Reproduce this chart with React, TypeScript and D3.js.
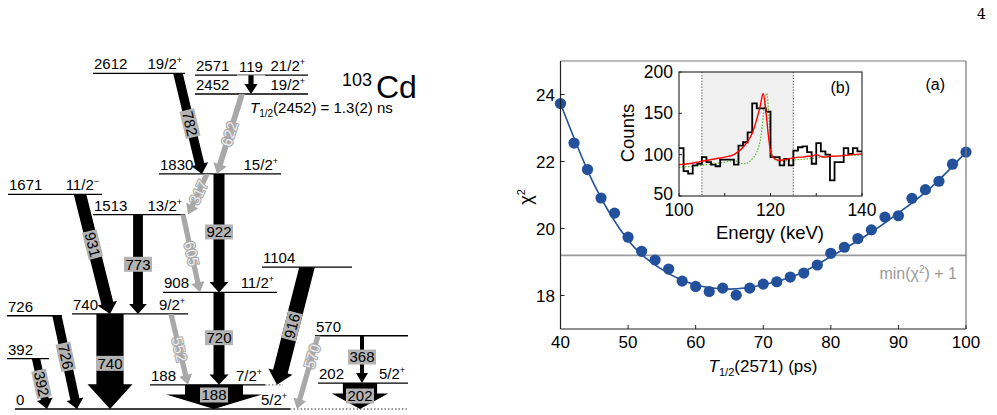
import React from 'react';
import * as d3 from 'd3';

const FONT = '"Liberation Sans", Arial, Helvetica, sans-serif';

// ---- level scheme of 103Cd ----
const levelEnergy = [0, 188, 202, 392, 570, 726, 740, 908, 1104, 1513, 1671, 1830, 2452, 2571, 2612];
const levelSpin = ['5/2+', '7/2+', '5/2+', '', '', '', '9/2+', '11/2+', '', '13/2+', '11/2-', '15/2+', '19/2+', '21/2+', '19/2+'];

const gammaEnergy = [782, 119, 622, 922, 317, 931, 773, 605, 720, 740, 726, 392, 552, 916, 570, 368, 188, 202];
const gammaFrom = [2612, 2571, 2452, 1830, 1830, 1671, 1513, 1513, 908, 740, 726, 392, 740, 1104, 570, 570, 188, 202];
const gammaTo = [1830, 2452, 1830, 908, 1513, 740, 740, 908, 188, 0, 0, 0, 188, 188, 0, 202, 0, 0];
const gammaIntensity = [16, 9, 10, 19, 9, 21, 17, 9, 19, 47, 16, 14, 9, 26, 9, 7, 100, 59];
const gammaWeak = [false, false, true, false, true, false, false, true, false, false, false, false, true, false, true, false, false, false];

// ---- chi2 scan (a) ----
const halfLife = [40, 42, 44, 46, 48, 50, 52, 54, 56, 58, 60, 62, 64, 66, 68, 70, 72, 74, 76, 78, 80, 82, 84, 86, 88, 90, 92, 94, 96, 98, 100];
const chi2 = [23.73, 22.55, 21.76, 20.91, 20.46, 19.74, 19.32, 19.06, 18.79, 18.43, 18.27, 18.12, 18.22, 18.01, 18.22, 18.34, 18.41, 18.55, 18.67, 18.91, 19.26, 19.44, 19.7, 19.96, 20.34, 20.38, 20.9, 21.16, 21.41, 21.92, 22.28];
const fitHalfLife = [40, 45, 50, 55, 60, 65, 70, 75, 80, 85, 90, 95, 100];
const fitChi2 = [23.73, 21.3, 19.65, 18.78, 18.32, 18.19, 18.32, 18.62, 19.16, 19.76, 20.46, 21.26, 22.28];
const chi2Limit = 19.2;
const mainXTicks = [40, 50, 60, 70, 80, 90, 100];
const mainYTicks = [18, 20, 22, 24];

// ---- inset spectrum (b) ----
const binEnergy = [100, 101, 102, 103, 104, 105, 106, 107, 108, 109, 110, 111, 112, 113, 114, 115, 116, 117, 118, 119, 120, 121, 122, 123, 124, 125, 126, 127, 128, 129, 130, 131, 132, 133, 134, 135, 136, 137, 138, 139, 140];
const binCounts = [108, 80, 77, 87, 89, 97, 91, 88, 86, 94, 94, 94, 88, 111, 115, 127, 162, 156, 156, 152, 97, 97, 87, 95, 87, 105, 109, 110, 103, 89, 114, 104, 100, 69, 91, 91, 108, 101, 108, 104, 104];
const fitEnergy = [100, 102, 104, 106, 108, 110, 112, 113, 114, 115, 116, 117, 117.8, 118.4, 119, 119.5, 120, 120.5, 121, 122, 123, 124, 125, 126, 127, 128, 129, 130, 131, 132, 133, 134, 136, 138, 140];
const fitCounts = [88, 89, 91, 93, 95, 97, 100, 104, 109, 116, 126, 143, 160, 174, 152, 125, 104, 97, 95, 93, 94, 95, 96, 97, 97, 98, 98, 100, 98, 97, 98, 98, 99, 100, 101];
const peakEnergy = [100, 103, 106, 109, 111, 112, 113, 114, 115, 116, 117, 118, 118.7, 119.2, 119.6, 120, 120.4, 121, 122, 124, 126, 128, 130, 132, 134, 136, 138, 140];
const peakCounts = [85, 86, 88, 90, 92, 93, 91, 89, 90, 95, 103, 125, 160, 174, 150, 118, 100, 94, 92, 93, 94, 95, 96, 97, 98, 99, 99, 100];
const gateRange = [105, 125];
const insetXTicks = [100, 110, 120, 130, 140];
const insetXLabels = [100, 120, 140];
const insetYTicks = [50, 100, 150, 200];

// layout of the level scheme (pixels)
const levelLayout: Record<number, { x1: number; x2: number; dotTo?: number; spinX?: number; dy?: number }> = {
  0: { x1: 15, x2: 290, dotTo: 408, spinX: 287 },
  188: { x1: 150, x2: 265, dotTo: 283, spinX: 262 },
  202: { x1: 318, x2: 408 },
  392: { x1: 7, x2: 49 },
  570: { x1: 315, x2: 408 },
  726: { x1: 7, x2: 62 },
  740: { x1: 72, x2: 188 },
  908: { x1: 163, x2: 277 },
  1104: { x1: 262, x2: 352 },
  1513: { x1: 93, x2: 185 },
  1671: { x1: 8, x2: 102 },
  1830: { x1: 159, x2: 281 },
  2452: { x1: 195, x2: 308 },
  2571: { x1: 195, x2: 308, dy: -3.5 },
  2612: { x1: 93, x2: 185 },
};
const gammaX1 = [178, 251, 242, 219, 207, 80, 138, 183, 219, 110, 57, 36, 171, 307, 318, 362, 214, 360];
const gammaX2 = [202, 251, 217, 219, 188, 110, 138, 200, 219, 110, 77, 47, 188, 277, 297, 362, 214, 360];
const gammaLabelT = [0.5, -0.45, 0.5, 0.49, 0.45, 0.42, 0.5, 0.5, 0.49, 0.52, 0.44, 0.5, 0.5, 0.5, 0.28, 0.45, 0.42, 0.5];

const yLevel = d3.scaleLinear().domain([0, 2452]).range([409, 94]);
const widthScale = d3.scaleLinear().domain([0, 100]).range([0, 58]);
const levelY = (e: number) => yLevel(e) + (levelLayout[e].dy || 0);

function arrowPoints(x1: number, y1: number, x2: number, y2: number, w: number) {
  const dx = x2 - x1, dy = y2 - y1, len = Math.hypot(dx, dy);
  const ux = dx / len, uy = dy / len, nx = -uy, ny = ux;
  const headW = w + Math.max(8, 0.65 * w);
  const headL = Math.min(Math.max(10, 0.55 * headW), 0.6 * len);
  const bx = x2 - ux * headL, by = y2 - uy * headL;
  const start = (s: number) => {
    const px = x1 + nx * s * w / 2, py = y1 + ny * s * w / 2;
    const t = (y1 - py) / uy;
    return [px + ux * t, y1];
  };
  const pts = [
    start(1),
    [bx + nx * w / 2, by + ny * w / 2],
    [bx + nx * headW / 2, by + ny * headW / 2],
    [x2, y2],
    [bx - nx * headW / 2, by - ny * headW / 2],
    [bx - nx * w / 2, by - ny * w / 2],
    start(-1),
  ];
  return pts.map(p => p[0].toFixed(1) + ',' + p[1].toFixed(1)).join(' ');
}

const Spin = ({ s, x, y, anchor }: { s: string; x: number; y: number; anchor: string }) => {
  const sign = s.slice(-1) === '-' ? '\u2212' : '+';
  return (
    <text x={x} y={y} textAnchor={anchor} fontSize={15}>
      {s.slice(0, -1)}
      <tspan fontSize={9} dy={-6}>{sign}</tspan>
    </text>
  );
};

const LevelScheme = () => (
  <g fontFamily={FONT}>
    {levelEnergy.map((e, i) => {
      const L = levelLayout[e];
      const y = levelY(e);
      return (
        <g key={e}>
          <line x1={L.x1} x2={L.x2} y1={y} y2={y} stroke="#000" strokeWidth={1.3} />
          {L.dotTo && <line x1={L.x2} x2={L.dotTo} y1={y} y2={y} stroke="#777" strokeWidth={1.3} strokeDasharray="1.5,2" />}
          <text x={L.x1 + 1} y={y - 4} fontSize={15}>{e}</text>
          {levelSpin[i] && <Spin s={levelSpin[i]} x={L.spinX ?? L.x2 - 3} y={y - 4} anchor="end" />}
        </g>
      );
    })}
    {gammaEnergy.map((g, i) => {
      const x1 = gammaX1[i], x2 = gammaX2[i];
      const y1 = levelY(gammaFrom[i]), y2 = levelY(gammaTo[i]);
      const w = widthScale(gammaIntensity[i]);
      const t = gammaLabelT[i];
      const cx = x1 + (x2 - x1) * t, cy = y1 + (y2 - y1) * t;
      let ang = Math.abs(x2 - x1) < 1 ? 0 : Math.atan2(y2 - y1, x2 - x1) * 180 / Math.PI;
      if (ang > 90) ang -= 180;
      const weak = gammaWeak[i];
      const outside = t < 0;
      return (
        <g key={g}>
          {outside && <line x1={cx - 14} x2={cx + 14} y1={y1} y2={y1} stroke="#bbb" strokeWidth={1.6} />}
          <polygon points={arrowPoints(x1, y1, x2, y2, w)} fill={weak ? '#a8a8a8' : '#000'} />
          <g transform={`translate(${cx},${cy}) rotate(${ang})`}>
            {!weak && !outside && <rect x={-14} y={-7.5} width={28} height={15} fill="#b3b3b3" />}
            <text textAnchor="middle" dy={5.3} fontSize={15}
              fill={weak ? '#ececec' : '#000'}
              stroke={weak ? '#a8a8a8' : 'none'} strokeWidth={weak ? 2.2 : 0}
              paintOrder="stroke" strokeLinejoin="round">{g}</text>
          </g>
        </g>
      );
    })}
    <text x={342} y={86} fontSize={18}>103</text>
    <text x={376} y={98} fontSize={32}>Cd</text>
    <text x={250} y={113} fontSize={15}>
      <tspan fontStyle="italic">T</tspan>
      <tspan fontSize={10} dy={4}>1/2</tspan>
      <tspan dy={-4}>(2452) = 1.3(2) ns</tspan>
    </text>
  </g>
);

const xMain = d3.scaleLinear().domain([40, 100]).range([560.5, 966]);
const yMain = d3.scaleLinear().domain([17, 25]).range([329, 61]);
const xIn = d3.scaleLinear().domain([100, 140]).range([679, 862]);
const yIn = d3.scaleLinear().domain([50, 200]).range([196, 72]);

const BLUE = '#22509a';

const ChiPlot = () => {
  const fitLine = d3.line<number>()
    .x((d, i) => xMain(fitHalfLife[i]))
    .y(d => yMain(d))
    .curve(d3.curveMonotoneX)(fitChi2) || '';
  const hist = d3.line<number>()
    .x((d, i) => xIn(binEnergy[i]))
    .y(d => yIn(d))
    .curve(d3.curveStepAfter)(binCounts) || '';
  const red = d3.line<number>()
    .x((d, i) => xIn(fitEnergy[i]))
    .y(d => yIn(d))
    .curve(d3.curveMonotoneX)(fitCounts) || '';
  const green = d3.line<number>()
    .x((d, i) => xIn(peakEnergy[i]))
    .y(d => yIn(d))
    .curve(d3.curveMonotoneX)(peakCounts) || '';
  const [x0, x1] = xMain.range();
  const [y0, y1] = yMain.range();
  const [ix0, ix1] = xIn.range();
  const [iy0, iy1] = yIn.range();
  return (
    <g fontFamily={FONT}>
      <line x1={x0} x2={x1} y1={yMain(chi2Limit)} y2={yMain(chi2Limit)} stroke="#9a9a9a" strokeWidth={1.8} />
      <path d={fitLine} fill="none" stroke={BLUE} strokeWidth={1.6} />
      {chi2.map((c, i) => (
        <circle key={i} cx={xMain(halfLife[i])} cy={yMain(c)} r={5.6} fill={BLUE} />
      ))}
      {/* frame */}
      <line x1={x0} x2={x1} y1={y1} y2={y1} stroke="#777" strokeWidth={1.2} />
      <line x1={x1} x2={x1} y1={y1} y2={y0} stroke="#777" strokeWidth={1.2} />
      <line x1={x0} x2={x0} y1={y1} y2={y0} stroke="#222" strokeWidth={1.2} />
      <line x1={x0} x2={x1} y1={y0} y2={y0} stroke="#222" strokeWidth={1.2} />
      {mainXTicks.map(t => (
        <g key={t}>
          <line x1={xMain(t)} x2={xMain(t)} y1={y0} y2={y0 - 4} stroke="#222" />
          <text x={xMain(t)} y={348} textAnchor="middle" fontSize={17}>{t}</text>
        </g>
      ))}
      {mainYTicks.map(t => (
        <g key={t}>
          <line x1={x0} x2={x0 + 4} y1={yMain(t)} y2={yMain(t)} stroke="#222" />
          <text x={555} y={yMain(t) + 6} textAnchor="end" fontSize={17}>{t}</text>
        </g>
      ))}
      <text x={763} y={372} textAnchor="middle" fontSize={17}>
        <tspan fontStyle="italic">T</tspan>
        <tspan fontSize={11} dy={4}>1/2</tspan>
        <tspan dy={-4}>(2571) (ps)</tspan>
      </text>
      <text transform="translate(532,197) rotate(-90)" textAnchor="middle" fontSize={18}>
        χ<tspan fontSize={11} dy={-7}>2</tspan>
      </text>
      <text x={957} y={279} textAnchor="end" fontSize={16} fill="#999">
        min(χ<tspan fontSize={10} dy={-6}>2</tspan><tspan dy={6}>) + 1</tspan>
      </text>
      <text x={945} y={90} textAnchor="end" fontSize={16}>(a)</text>

      {/* inset */}
      <rect x={ix0} y={iy1} width={ix1 - ix0} height={iy0 - iy1} fill="#fff" />
      <rect x={xIn(gateRange[0])} y={iy1} width={xIn(gateRange[1]) - xIn(gateRange[0])} height={iy0 - iy1} fill="#f0f0f0" />
      {gateRange.map(g => (
        <line key={g} x1={xIn(g)} x2={xIn(g)} y1={iy1} y2={iy0} stroke="#777" strokeWidth={1.3} strokeDasharray="1.3,1.6" />
      ))}
      <path d={green} fill="none" stroke="#55b82a" strokeWidth={1.2} strokeDasharray="1.5,1.5" />
      <path d={hist} fill="none" stroke="#000" strokeWidth={1.8} />
      <path d={red} fill="none" stroke="#f00" strokeWidth={1.4} />
      <rect x={ix0} y={iy1} width={ix1 - ix0} height={iy0 - iy1} fill="none" stroke="#222" strokeWidth={1.1} />
      {insetXTicks.map(t => (
        <line key={t} x1={xIn(t)} x2={xIn(t)} y1={iy0} y2={iy0 - 3} stroke="#222" />
      ))}
      {insetXLabels.map(t => (
        <text key={t} x={xIn(t)} y={216} textAnchor="middle" fontSize={17.5}>{t}</text>
      ))}
      {insetYTicks.map(t => (
        <g key={t}>
          <line x1={ix0} x2={ix0 + 3} y1={yIn(t)} y2={yIn(t)} stroke="#222" />
          <text x={673} y={yIn(t) + (t === 50 ? 4 : 6)} textAnchor="end" fontSize={17.5}>{t}</text>
        </g>
      ))}
      <text x={770} y={239} textAnchor="middle" fontSize={18.5}>Energy (keV)</text>
      <text transform="translate(634,133) rotate(-90)" textAnchor="middle" fontSize={18.5}>Counts</text>
      <text x={850} y={93} textAnchor="end" fontSize={16}>(b)</text>
    </g>
  );
};

export default function App() {
  return (
    <svg width={997} height={415} style={{ position: 'absolute', left: 0, top: 0, background: '#fff' }}>
      <rect width={997} height={415} fill="#fff" />
      <text x={986} y={19} textAnchor="end" fontSize={14} fontFamily='"DejaVu Serif", serif'>4</text>
      <LevelScheme />
      <ChiPlot />
    </svg>
  );
}
